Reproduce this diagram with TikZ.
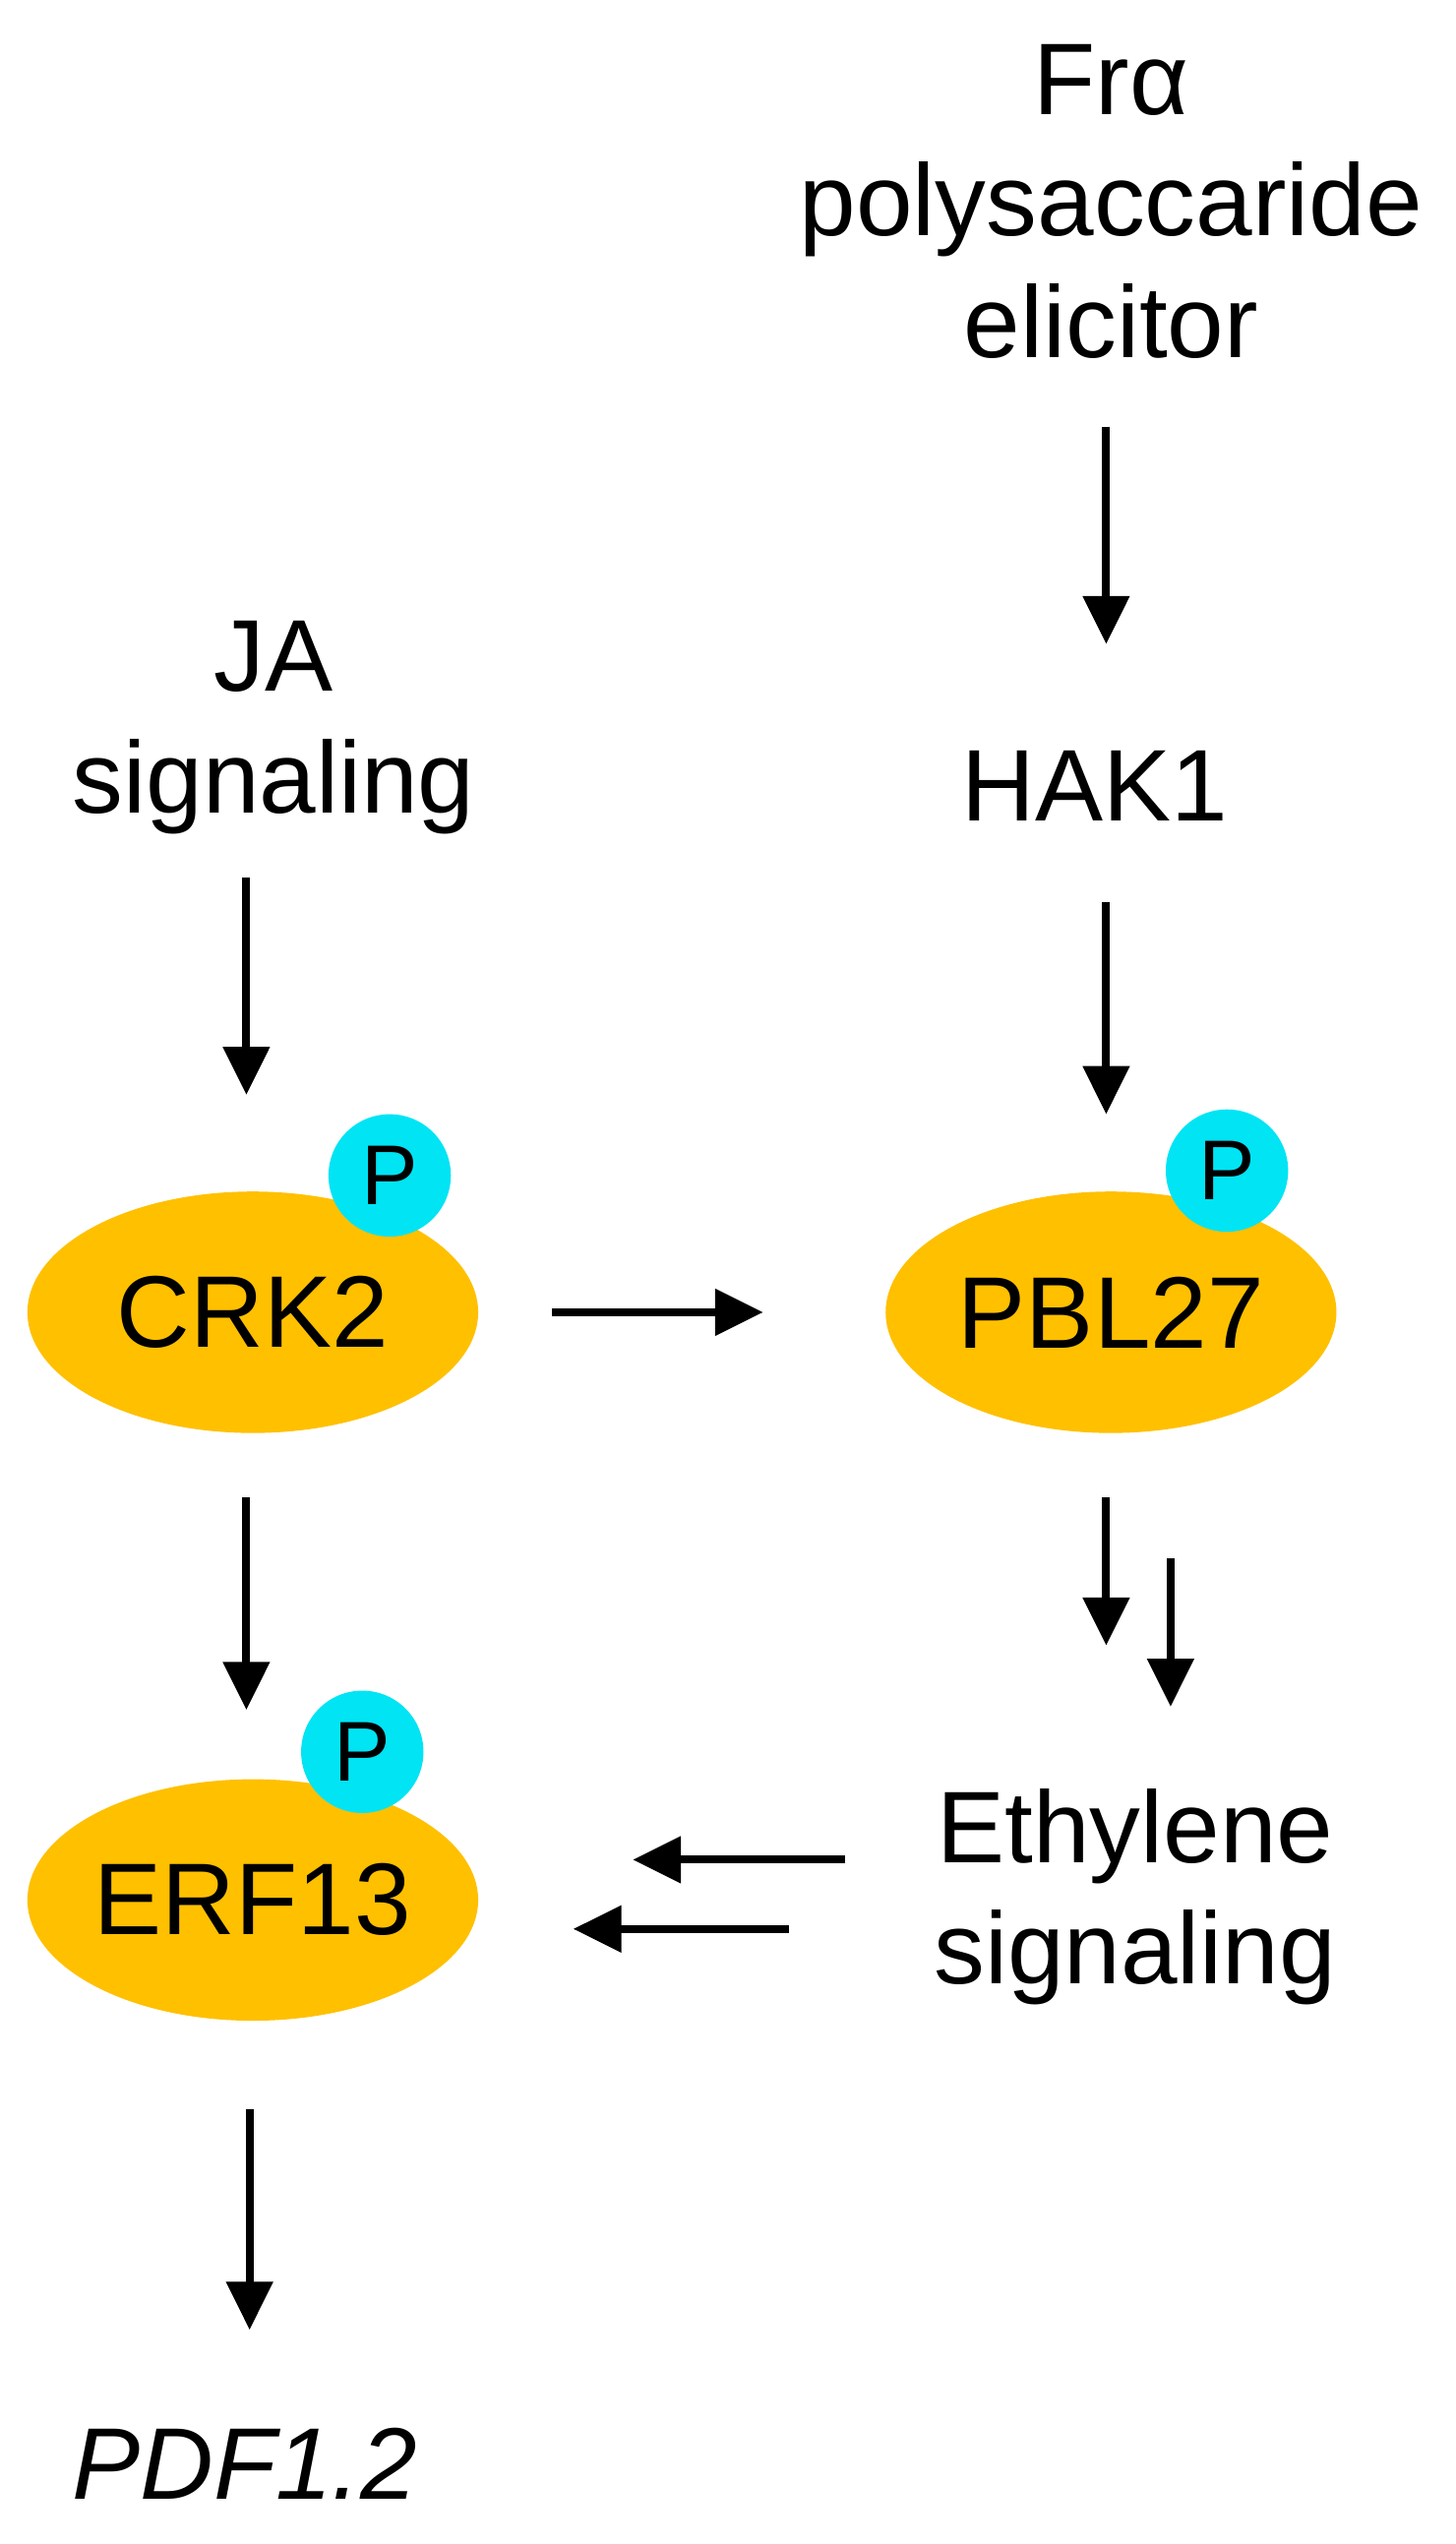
\documentclass[tikz,border=0pt]{standalone}
\usepackage{fontspec}
\setmainfont{Liberation Sans}
\usetikzlibrary{arrows.meta,shapes.geometric}
\definecolor{orng}{HTML}{FFC000}
\definecolor{cyn}{HTML}{00E4F4}
\begin{document}
\begin{tikzpicture}[x=0.02cm,y=-0.02cm,
  lbl/.style={font=\fontsize{36}{43}\selectfont,align=center,inner sep=0},
  prot/.style={ellipse,fill=orng,minimum width=5.6cm,minimum height=3cm,inner sep=0,font=\fontsize{36}{43}\selectfont},
  ph/.style={circle,fill=cyn,minimum size=1.52cm,inner sep=0,font=\fontsize{30}{36}\selectfont},
  arr/.style={line width=2.8pt,-{Triangle[length=17pt,width=16pt]}}]
\useasboundingbox (0,0) rectangle (904,1580);
\node[lbl] (fra) at (690,125) {Frα\\polysaccaride\\elicitor};
\node[lbl] (hak) at (680,488) {HAK1};
\node[lbl] (ja) at (170,452) {JA\\signaling};
\node[prot] (crk) at (157,815) {CRK2};
\node[ph] (p1) at (242,730) {P};
\node[prot] (pbl) at (690,815) {PBL27};
\node[ph] (p2) at (762,727) {P};
\node[prot] (erf) at (157,1180) {ERF13};
\node[ph] (p3) at (225,1088) {P};
\node[lbl] (eth) at (705,1178) {Ethylene\\signaling};
\node[lbl,font=\fontsize{36}{43}\selectfont\itshape] (pdf) at (152,1530) {PDF1.2};
\coordinate (a1s) at (687,265); \coordinate (a1e) at (687,400);
\coordinate (a2s) at (687,560); \coordinate (a2e) at (687,692);
\coordinate (a3s) at (153,545); \coordinate (a3e) at (153,680);
\coordinate (a4s) at (343,815); \coordinate (a4e) at (474,815);
\coordinate (a5s) at (153,930); \coordinate (a5e) at (153,1062);
\coordinate (a6s) at (687,930); \coordinate (a6e) at (687,1022);
\coordinate (a7s) at (727,968); \coordinate (a7e) at (727,1060);
\coordinate (a8s) at (525,1155); \coordinate (a8e) at (393,1155);
\coordinate (a9s) at (490,1198); \coordinate (a9e) at (356,1198);
\coordinate (a10s) at (155,1310); \coordinate (a10e) at (155,1447);
\draw[arr] (a1s) -- (a1e);
\draw[arr] (a2s) -- (a2e);
\draw[arr] (a3s) -- (a3e);
\draw[arr] (a4s) -- (a4e);
\draw[arr] (a5s) -- (a5e);
\draw[arr] (a6s) -- (a6e);
\draw[arr] (a7s) -- (a7e);
\draw[arr] (a8s) -- (a8e);
\draw[arr] (a9s) -- (a9e);
\draw[arr] (a10s) -- (a10e);
\end{tikzpicture}
\end{document}
